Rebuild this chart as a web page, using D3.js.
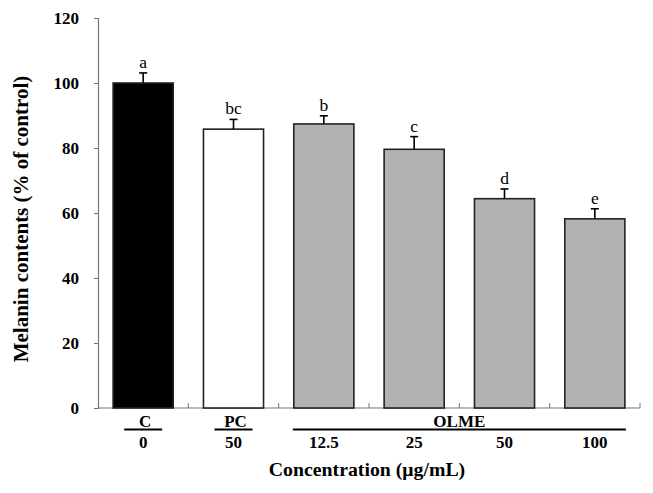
<!DOCTYPE html>
<html>
<head>
<meta charset="utf-8">
<script src="https://cdn.jsdelivr.net/npm/d3@7"></script>
<style>
  body { margin: 0; background: #fff; }
  text { font-family: "Liberation Serif", "Times New Roman", serif; }
</style>
</head>
<body>
<div id="chart"></div>
<script>

// data
const groups   = ["C", "PC", "OLME", "OLME", "OLME", "OLME"]
const doses    = ["0", "50", "12.5", "25", "50", "100"]
const melanin  = [100, 85.8, 87.4, 79.6, 64.4, 58.2]
const errors   = [3.1, 3.0, 2.5, 3.9, 3.0, 3.1]
const letters  = ["a", "bc", "b", "c", "d", "e"]
const fills    = ["#000000", "#ffffff", "#b2b2b2", "#b2b2b2", "#b2b2b2", "#b2b2b2"]
const yTicks   = [0, 20, 40, 60, 80, 100, 120]

const W = 653, H = 493
const margin = {top: 18, right: 13, bottom: 85, left: 98}
const width = W - margin.left - margin.right
const height = H - margin.top - margin.bottom

const svg = d3.select("#chart").append("svg")
    .attr("width", W)
    .attr("height", H)

const g = svg.append("g")
    .attr("transform", "translate(" + margin.left + "," + margin.top + ")")

    // one band per bar, keyed by index because doses repeat ("50")
const x = d3.scaleBand()
    .domain(d3.range(doses.length))
    .range([0, width])
    .paddingInner(0.335)
    .paddingOuter(0.1675)

const y = d3.scaleLinear()
    .domain([0, 120])
    .range([height, 0])

    // y axis
const yAxis = g.append("g")
    .call(d3.axisLeft(y).tickValues(yTicks).tickSize(4).tickPadding(15))
yAxis.select(".domain").attr("stroke", "#777").attr("stroke-width", 1.2)
yAxis.selectAll(".tick line").attr("stroke", "#777")
yAxis.selectAll(".tick text")
    .attr("font-family", "Liberation Serif")
    .attr("font-weight", "bold")
    .attr("font-size", 17)
    .attr("fill", "#000")

    // x axis baseline with ticks between the bars, pointing up
const boundaries = d3.range(doses.length).map(i => x(i) - x.step() * x.paddingInner() / 2 + x.step())
g.append("line")
    .attr("x1", 0).attr("x2", width)
    .attr("y1", height).attr("y2", height)
    .attr("stroke", "#777").attr("stroke-width", 1.2)
g.selectAll(".xtick")
    .data(boundaries).enter().append("line")
    .attr("class", "xtick")
    .attr("x1", d => d).attr("x2", d => d)
    .attr("y1", height).attr("y2", height - 5)
    .attr("stroke", "#777")

    // bars
g.selectAll(".bar")
    .data(melanin).enter().append("rect")
    .attr("class", "bar")
    .attr("x", (d, i) => x(i))
    .attr("y", d => y(d))
    .attr("width", x.bandwidth())
    .attr("height", d => height - y(d))
    .attr("fill", (d, i) => fills[i])
    .attr("stroke", "#222")
    .attr("stroke-width", 1.6)

    // error bars (upper only)
const cx = i => x(i) + x.bandwidth() / 2
g.selectAll(".err")
    .data(melanin).enter().append("line")
    .attr("x1", (d, i) => cx(i)).attr("x2", (d, i) => cx(i))
    .attr("y1", d => y(d)).attr("y2", (d, i) => y(d + errors[i]))
    .attr("stroke", "#000").attr("stroke-width", 1.6)
g.selectAll(".cap")
    .data(melanin).enter().append("line")
    .attr("x1", (d, i) => cx(i) - 4).attr("x2", (d, i) => cx(i) + 4)
    .attr("y1", (d, i) => y(d + errors[i])).attr("y2", (d, i) => y(d + errors[i]))
    .attr("stroke", "#000").attr("stroke-width", 1.6)

    // significance letters
g.selectAll(".letter")
    .data(melanin).enter().append("text")
    .attr("x", (d, i) => cx(i))
    .attr("y", (d, i) => y(d + errors[i]) - 5)
    .attr("text-anchor", "middle")
    .attr("font-size", 17.5)
    .text((d, i) => letters[i])

    // dose labels
g.selectAll(".dose")
    .data(doses).enter().append("text")
    .attr("x", (d, i) => cx(i))
    .attr("y", height + 40)
    .attr("text-anchor", "middle")
    .attr("font-weight", "bold")
    .attr("font-size", 17)
    .text(d => d)

    // group labels with underlines (C, PC single; OLME spans the rest)
const groupSpans = []
groups.forEach((gname, i) => {
    const last = groupSpans[groupSpans.length - 1]
    if (last && last.name === gname) last.end = i
    else groupSpans.push({name: gname, start: i, end: i})
})

groupSpans.forEach(s => {
    let x1, x2
    if (s.start === s.end) {
        x1 = cx(s.start) - 19
        x2 = cx(s.start) + 19
    } else {
        x1 = x(s.start) - 1
        x2 = x(s.end) + x.bandwidth() + 1
    }
    g.append("line")
        .attr("x1", x1).attr("x2", x2)
        .attr("y1", height + 21.5).attr("y2", height + 21.5)
        .attr("stroke", "#000").attr("stroke-width", 1.8)
    g.append("text")
        .attr("x", (x1 + x2) / 2 + (s.start === s.end ? 2 : 0))
        .attr("y", height + 19)
        .attr("text-anchor", "middle")
        .attr("font-weight", "bold")
        .attr("font-size", 17)
        .text(s.name)
})

    // axis titles
svg.append("text")
    .attr("x", margin.left + width / 2 - 2)
    .attr("y", H - 17)
    .attr("text-anchor", "middle")
    .attr("font-weight", "bold")
    .attr("font-size", 19.8)
    .text("Concentration (μg/mL)")

svg.append("text")
    .attr("transform", "translate(28,219) rotate(-90)")
    .attr("text-anchor", "middle")
    .attr("font-weight", "bold")
    .attr("font-size", 21)
    .text("Melanin contents (% of control)")

</script>
</body>
</html>
